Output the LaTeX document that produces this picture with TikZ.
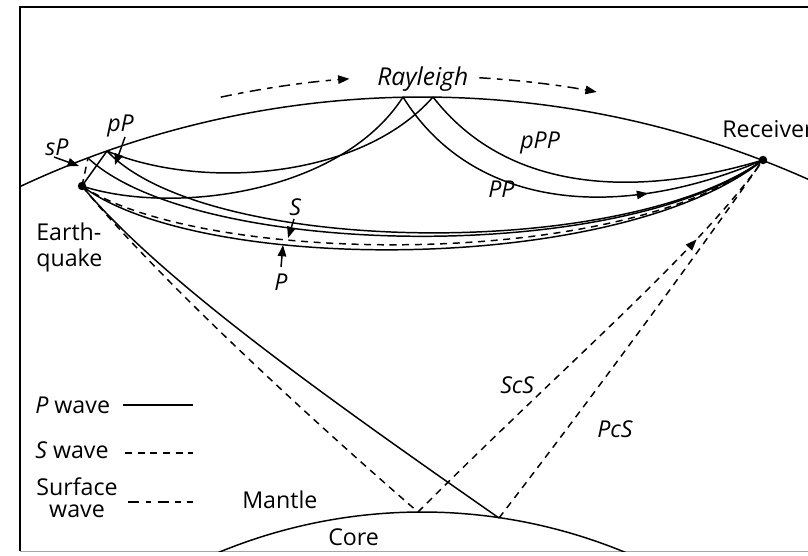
\documentclass[tikz,border=0pt]{standalone}
\usepackage{fontspec}
\setmainfont{Open Sans}
\usetikzlibrary{arrows.meta,decorations.markings}
\begin{document}
\begin{tikzpicture}[x=0.025cm,y=-0.025cm,
  ray/.style={line width=1.05pt},
  swave/.style={line width=1.05pt,dash pattern=on 5pt off 4pt},
  surfwave/.style={line width=1.05pt,dash pattern=on 8pt off 4.5pt on 4pt off 4.5pt},
  tipped/.style={-{Triangle[length=8pt,width=6pt]}},
  midarrow/.style={postaction={decorate},decoration={markings,
      mark=at position #1 with {\arrow{Triangle[length=8pt,width=6pt]}}}},
  lbl/.style={font=\fontsize{16.5}{19}\selectfont,inner sep=0pt},
  ph/.style={font=\fontsize{16.5}{19}\selectfont\itshape,inner sep=0pt},
  srcdot/.style={circle,fill=black,inner sep=0pt,minimum size=6pt}
]
\useasboundingbox (0,0) rectangle (808,555);
\clip (0,0) rectangle (808,555);
\fill[white] (0,0) rectangle (808,555);

% frame
\draw[line width=0.9pt] (20,551) -- (20,7) -- (830,7);
\draw[black!35,line width=0.6pt] (20,551) -- (830,551);

% key points
\coordinate (C) at (422,1044);
\coordinate (eq) at (82,186);
\coordinate (rc) at (763,160);
\coordinate (A) at (403,97);
\coordinate (B) at (433,97);
\coordinate (pb) at (107,151);
\coordinate (sb) at (88,158);
\coordinate (scs) at (418,512);
\coordinate (pcs) at (499,518);

% Earth surface and core boundary
\begin{scope}
  \clip (20,7) rectangle (808,551);
  \draw[ray] (C) ++(-116:947) arc[start angle=-116,end angle=-62,radius=947];
  \draw[ray] (C) ++(-118:532) arc[start angle=-118,end angle=-62,radius=532];
\end{scope}

% direct P and S
\draw[ray] (eq) .. controls (200,275) and (620,275) .. (rc);
\draw[swave] (eq) .. controls (200,265) and (620,272) .. (rc);
% sP
\draw[swave] (eq) -- (sb);
\draw[ray] (sb) .. controls (195,258) and (620,266) .. (rc);
% pP
\draw[ray] (eq) -- (pb);
\draw[ray] (pb) .. controls (205,255) and (620,262) .. (rc);
% PP
\draw[ray] (eq) .. controls (170,215) and (340,195) .. (A);
\draw[ray,midarrow=0.7] (A) .. controls (470,205) and (610,225) .. (rc);
% pPP
\draw[ray] (pb) .. controls (200,190) and (360,180) .. (B);
\draw[ray] (B) .. controls (505,190) and (630,200) .. (rc);
% ScS
\draw[swave] (eq) .. controls (150,270) and (300,410) .. (scs);
\draw[swave,midarrow=0.79] (scs) .. controls (570,360) and (700,250) .. (rc);
% PcS
\draw[ray] (eq) .. controls (160,280) and (330,400) .. (pcs);
\draw[swave] (pcs) .. controls (590,400) and (700,250) .. (rc);

% Rayleigh wave arrows along the surface
\draw[surfwave,tipped] (C) ++(-102:968) arc[start angle=-102,end angle=-94.3,radius=968];
\draw[surfwave,tipped] (C) ++(-86.6:968) arc[start angle=-86.6,end angle=-79.6,radius=968];

% source and receiver
\node[srcdot] (eqd) at (eq) {};
\node[srcdot] (rcd) at (rc) {};

% labels
\node[ph,anchor=base west] (lsP) at (45,155) {sP};
\node[ph,anchor=base west] (lpP) at (107,131) {pP};
\node[ph,anchor=base west] (lS) at (289,215) {S};
\node[ph,anchor=base west] (lP) at (274,290) {P};
\node[ph,anchor=base west,font=\fontsize{17.5}{19}\selectfont\itshape] (lRay) at (377,85) {Rayleigh};
\node[ph,anchor=base west] (lpPP) at (520,148) {pPP};
\node[ph,anchor=base west] (lPP) at (488,197) {PP};
\node[ph,anchor=base west] (lScS) at (500,393) {ScS};
\node[ph,anchor=base west] (lPcS) at (597,437) {PcS};
\node[lbl,anchor=base west] (lrc) at (722,137) {Receiver};
\node[lbl,anchor=base west] (leq1) at (36,240) {Earth-};
\node[lbl,anchor=base west] (leq2) at (36,266) {quake};
\node[lbl,anchor=base west] (lman) at (242,508) {Mantle};
\node[lbl,anchor=base west] (lcore) at (328,545) {Core};

% pointers
\coordinate (sPa) at (54,157);  \coordinate (sPt) at (79,166);
\coordinate (pPa) at (125,137); \coordinate (pPt) at (115,165);
\coordinate (Sa) at (294,219);  \coordinate (St) at (288,238);
\coordinate (Pa) at (281,267);  \coordinate (Pt) at (283,245);
\draw[ray,tipped] (sPa) -- (sPt);
\draw[ray,tipped] (pPa) -- (pPt);
\draw[ray,tipped] (Sa) -- (St);
\draw[ray,tipped] (Pa) -- (Pt);

% legend
\node[lbl,anchor=base west] (kP) at (35,413) {\itshape P\upshape\ wave};
\node[lbl,anchor=base west] (kS) at (35,458) {\itshape S\upshape\ wave};
\node[lbl,anchor=base] (kSu1) at (77,495) {Surface};
\node[lbl,anchor=base] (kSu2) at (77,517) {wave};
\coordinate (kPa) at (123,405); \coordinate (kPb) at (193,405);
\coordinate (kSa) at (125,453); \coordinate (kSb) at (193,453);
\coordinate (kUa) at (128,502); \coordinate (kUb) at (193,502);
\draw[ray] (kPa) -- (kPb);
\draw[swave] (kSa) -- (kSb);
\draw[surfwave] (kUa) -- (kUb);
\end{tikzpicture}
\end{document}
